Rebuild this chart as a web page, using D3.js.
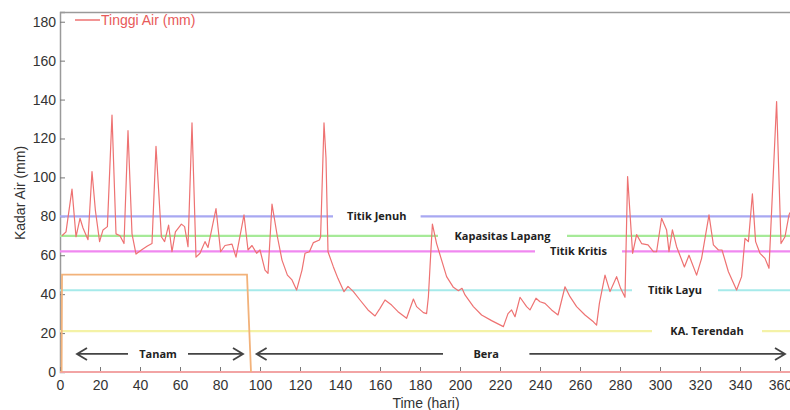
<!DOCTYPE html>
<html>
<head>
<meta charset="utf-8">
<script src="https://cdn.jsdelivr.net/npm/d3@7"></script>
<style>
    body { margin: 0; background: #fff; }
    text { font-family: "Liberation Sans", Arial, sans-serif; }
    .thr-label, .arrow-label { font-family: "Open Sans", "Liberation Sans", sans-serif; font-weight: 700; font-size: 11px; fill: #222; }
</style>
</head>
<body>
<div id="chart"></div>
<script>
// Tinggi Air (mm) series
const days = [1, 3, 6, 8, 10, 11.5, 14, 16, 17.7, 19.8, 21.5, 23.7, 26, 28, 30, 32, 34, 36, 38, 40.7,
    43.7, 46, 48, 50.7, 52.3, 54.3, 56, 57.7, 60.7, 62.3, 64, 66, 68, 70, 72.5, 74, 78, 80.3, 82.5, 86,
    88, 92, 94, 96, 98.3, 100, 102.5, 104, 106, 108.7, 111, 113.7, 116, 118.3, 121, 122.5, 124.7, 126.7, 129.7, 130.3,
    132, 133, 134, 136.7, 139, 142, 144, 146.7, 150, 154, 157.5, 160, 162.5, 165.8, 169, 173.3, 176.7, 178.3, 181.7, 183.3,
    184.2, 185, 186.2, 188.3, 190.8, 193.3, 196.7, 199.2, 201, 202.5, 206.7, 210.8, 215.8, 221.7, 224, 225.8, 227.5, 230, 233.3, 235,
    238, 240, 242.5, 245.8, 249, 252.5, 255, 258.3, 262.5, 266.7, 268.3, 269.7, 272.5, 275, 278.3, 280.3, 282.5, 283.8, 286.3, 288.3,
    290.8, 294, 296.7, 298.3, 300.8, 303.3, 304.5, 306.2, 308.3, 312.2, 314.5, 318.3, 320.8, 324.5, 326.7, 329.2, 331, 334.2, 338.3, 340.8,
    342.5, 344.2, 346.2, 347.8, 350, 352.5, 354.5, 358.3, 360.5, 362.5, 364.5, 365];
const tinggiAir = [70, 72, 94, 69.5, 79, 74, 68, 103, 83, 67, 73, 74.7, 132, 71, 70, 66, 124, 71, 60.6, 62.7,
    64.7, 66, 116, 69.5, 67, 75.5, 61.8, 72, 76, 74.7, 64.4, 128, 59, 61, 67, 64, 84, 61.8, 65, 65.7,
    59, 80.7, 62.7, 65, 61, 62.7, 52.4, 50.7, 86.3, 69.5, 57.5, 49.8, 47.3, 42.1, 52.4, 61, 61.8, 66.5, 67.8, 69.5,
    128, 110, 61.8, 54, 48, 41.3, 44, 41.3, 37, 31.9, 28.8, 32.7, 37, 34.4, 31, 27.6, 37.5, 33.6, 30.5, 30,
    38.7, 54, 76, 66, 57.5, 49, 43.5, 41.8, 43, 39.6, 33.6, 29.3, 26.4, 23.3, 30, 31.9, 28.4, 38.4, 33.6, 31.9,
    37.9, 36.1, 35.3, 31.9, 29.3, 43.8, 38.7, 33.6, 29.3, 25.8, 24.1, 35.3, 49.8, 41.3, 49, 43, 38.4, 100.4, 61, 70.6,
    66, 65.3, 61.8, 61.8, 79, 73, 61.8, 73, 64.4, 54, 60, 49.8, 58.4, 80.7, 65.3, 62.7, 62.7, 51.5, 42.1, 49,
    68.7, 67, 91.5, 67, 61, 58.4, 53.3, 139, 66, 69.5, 80.7, 82];

// Masa tanam (orange box)
const tanamDays = [0.8, 1, 93.5, 95.5];
const tanamValues = [0, 50, 50, 0];

// threshold lines: value, label, gap in the line around the label (days)
const thresholdNames = ["Titik Jenuh", "Kapasitas Lapang", "Titik Kritis", "Titik Layu", "KA. Terendah"];
const thresholdValues = [80, 70, 62, 42, 21];
const thresholdGaps = [[136.5, 180.3], [189, 253.5], [237.5, 281], [286, 329], [296, 351]];
const thresholdColors = ["#a8a8f2", "#a6ea98", "#f088f0", "#a6eaea", "#f4f2a6"];

// period arrows
const periodNames = ["Tanam", "Bera"];
const periodStart = [8.5, 98.3];
const periodEnd = [91.5, 362.5];
const periodGaps = [[34, 64], [191.5, 234.7]];
const arrowLevel = 9.3;

const xTicks = d3.range(0, 361, 20);
const yTicks = d3.range(0, 181, 20);

const margin = { top: 12, right: 0, bottom: 38, left: 60 };
const width = 790 - margin.left - margin.right;
const height = 410 - margin.top - margin.bottom;

const svg = d3.select("#chart")
    .append("svg")
    .attr("width", 790)
    .attr("height", 410)
    .append("g")
    .attr("transform", `translate(${margin.left},${margin.top})`);

const x = d3.scaleLinear().domain([0, 365]).range([0, width]);
const y = d3.scaleLinear().domain([0, 185]).range([height, 0]);

// frame: top and left borders
svg.append("line").attr("x1", 0).attr("x2", width).attr("y1", 0.5).attr("y2", 0.5)
    .attr("stroke", "#9a9a9a").attr("stroke-width", 1.5);

// y axis, ticks point into the plot
const yAxis = svg.append("g")
    .call(d3.axisRight(y).tickValues(yTicks).tickSize(5).tickFormat(d3.format("d")));
yAxis.select(".domain").attr("stroke", "#9a9a9a").attr("stroke-width", 1.5);
yAxis.selectAll(".tick line").attr("stroke", "#777");
yAxis.selectAll(".tick text")
    .attr("x", -4).attr("text-anchor", "end")
    .attr("fill", "#333").style("font-size", "14px");

// x axis, ticks point up
const xAxis = svg.append("g")
    .attr("transform", `translate(0,${height})`)
    .call(d3.axisTop(x).tickValues(xTicks).tickSize(5));
xAxis.select(".domain").remove();
xAxis.selectAll(".tick line").attr("stroke", "#777");
xAxis.selectAll(".tick text")
    .attr("y", 18).attr("dy", 0)
    .attr("fill", "#333").style("font-size", "14px");

// threshold lines with a gap for their labels
thresholdNames.forEach((name, i) => {
    const yv = y(thresholdValues[i]);
    const segs = [[0, thresholdGaps[i][0]], [thresholdGaps[i][1], 365]];
    svg.selectAll(null).data(segs).enter().append("line")
        .attr("x1", d => x(d[0])).attr("x2", d => x(d[1]))
        .attr("y1", yv).attr("y2", yv)
        .attr("stroke", thresholdColors[i]).attr("stroke-width", 2.2);
    svg.append("text")
        .attr("class", "thr-label")
        .attr("x", x((thresholdGaps[i][0] + thresholdGaps[i][1]) / 2))
        .attr("y", yv + 4)
        .attr("text-anchor", "middle")
        .text(name);
});

// bottom line (zero level)
svg.append("line").attr("x1", 0).attr("x2", width).attr("y1", height).attr("y2", height)
    .attr("stroke", "#f2a4a4").attr("stroke-width", 2);

// orange tanam box
svg.append("path")
    .datum(tanamDays.map((d, i) => [d, tanamValues[i]]))
    .attr("fill", "none")
    .attr("stroke", "#f2b27a")
    .attr("stroke-width", 1.8)
    .attr("d", d3.line().x(d => x(d[0])).y(d => y(d[1])));

// red water level line
svg.append("path")
    .datum(days.map((d, i) => [d, tinggiAir[i]]))
    .attr("fill", "none")
    .attr("stroke", "#ee7272")
    .attr("stroke-width", 1.2)
    .attr("stroke-linejoin", "round")
    .attr("d", d3.line().x(d => x(d[0])).y(d => y(d[1])));

// period arrows
const ay = y(arrowLevel);
periodNames.forEach((name, i) => {
    const a = x(periodStart[i]), b = x(periodEnd[i]);
    const g0 = x(periodGaps[i][0]), g1 = x(periodGaps[i][1]);
    svg.append("path")
        .attr("fill", "none").attr("stroke", "#444").attr("stroke-width", 1.8)
        .attr("d", `M${a},${ay}H${g0}M${g1},${ay}H${b}` +
            `M${a + 10},${ay - 6}L${a},${ay}L${a + 10},${ay + 6}` +
            `M${b - 10},${ay - 6}L${b},${ay}L${b - 10},${ay + 6}`);
    svg.append("text")
        .attr("class", "arrow-label")
        .attr("x", (g0 + g1) / 2)
        .attr("y", ay + 4)
        .attr("text-anchor", "middle")
        .text(name);
});

// legend
svg.append("line").attr("x1", x(7.5)).attr("x2", x(20)).attr("y1", 8).attr("y2", 8)
    .attr("stroke", "#ee7272").attr("stroke-width", 1.5);
svg.append("text").attr("x", x(20.5)).attr("y", 13)
    .attr("fill", "#e85a5a").style("font-size", "14px")
    .text("Tinggi Air (mm)");

// axis titles
svg.append("text")
    .attr("transform", `translate(${-35},${y(92)}) rotate(-90)`)
    .attr("text-anchor", "middle")
    .attr("fill", "#333").style("font-size", "14px")
    .text("Kadar Air (mm)");

svg.append("text")
    .attr("x", x(183)).attr("y", height + 36)
    .attr("text-anchor", "middle")
    .attr("fill", "#333").style("font-size", "14px")
    .text("Time (hari)");
</script>
</body>
</html>
